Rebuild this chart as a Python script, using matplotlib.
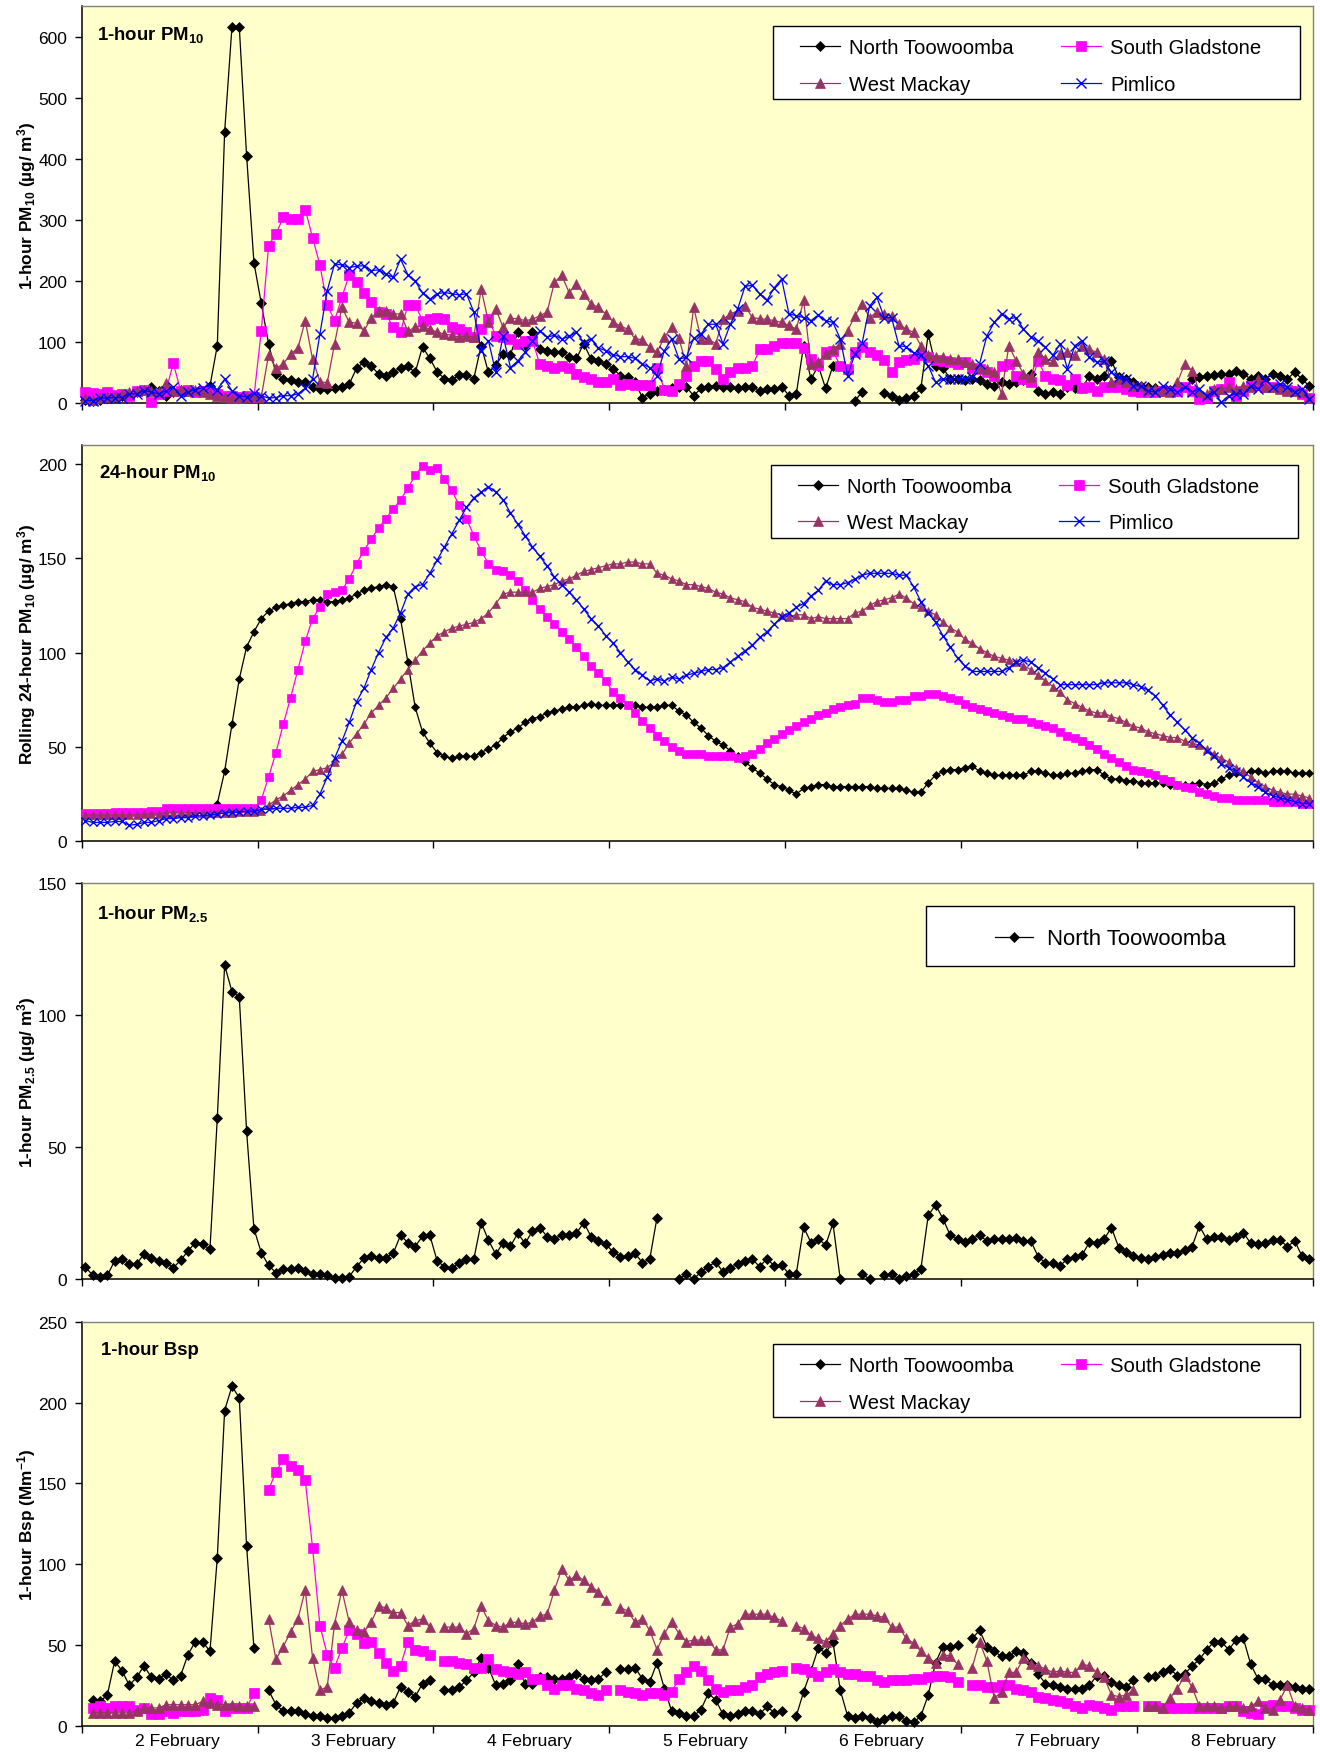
#!/usr/bin/env python

import numpy as np
import matplotlib
matplotlib.use('Agg')
import matplotlib.pyplot as plt
from matplotlib.lines import Line2D
from matplotlib.patches import Rectangle

nan = np.nan

# Hourly values from 2 February 00:00 to 8 February 23:00 (168 hours)
day_labels = ['2 February', '3 February', '4 February', '5 February',
              '6 February', '7 February', '8 February']

# 1-hour PM10 (ug/m3)
pm10_1h_toowoomba = [
    5, 3, 5, 8, 10, 12, 15, 18, 22, 27, 20, 12, 18, 22, 20, 18, 20, 28,
    94, 444, 616, 616, 405, 230, 164, 97, 48, 39, 38, 35, 34, 27, 23, 23, 24, 26, 31, 57, 67, 60,
    48, 44, 51, 57, 60, 50, 92, 73, 51, 40, 38, 46, 46, 40, 94, 50, 62,
    80, 79, 116, 95, 116, 88, 86, 83, 84, 75, 73, 97, 72, 68, 64, 56, 45, 42, 34, 9,
    15, 20, 22, 25, 27, 26, 12, 24, 27, 28, 26, 26, 24, 26, 27, 20, 23, 23, 27, 12, 15, 94, 39, 61, 24, 61,
    nan, nan, 4, 18, nan, nan, 16, 12, 5, 8, 11, 24,
    113, 61, 57, 40, 39, 38, 39, 37, 31, 28, 34, 31, 34, 37, 48, 20, 15, 18, 15, 26,
    24, 24, 45, 39, 45, 69, 42, 39, 34, 28, 26, 24, 20, 22, 20, 26, 39, 42, 44, 46,
    48, 48, 53, 48, 39, 45, 39, 48, 45, 39, 51, 39, 28]
pm10_1h_gladstone = [
    18, 17, 15, 18, 13, 14, 12, 20, 22, 1, 15, 20, 65, 20, 22, 18, 20, 18, 15, 12, 12, 10, 12, 10,
    118, 258, 277, 304, 302, 301, 317, 271, 226, 161, 135, 173, 210, 198, 181, 166, 149, 146, 124, 116,
    161, 161, 135, 138, 139, 137, 124, 121, 116, 108, 121, 138, 110,
    108, 105, 97, 102, 102, 64, 61, 58, 61, 58, 48, 42, 39, 35, 35, 39, 30, 31, 30, 30,
    30, 58, 22, 20, 31, 45, 60, 69, 69, 56, 40, 51, 57, 58, 60, 88, 88, 94, 98, 99,
    99, 90, 72, 62, 83, 85, 61, 55, 83, 91, 83, 79, 71, 50, 67, 70, 72,
    79, 75, 71, 69, 67, 64, 67, 58, 55, 50, 45, 61, 64, 45, 39, 34, 68, 45, 39, 37,
    30, 39, 24, 26, 19, 26, 26, 26, 23, 20, 18, 18, 18, 19, 18, 19, 26, 20, 7, 9,
    20, 23, 34, 12, 20, 28, 30, 26, 26, 24, 22, 19, 15, 9]
pm10_1h_mackay = [
    8, 5, 8, 10, 12, 15, 18, 20, 22, 20, 18, 33, 20, 22, 20, 22, 18, 15, 12, 10, 8, 8, 10, 12,
    10, 79, 57, 64, 80, 90, 135, 72, 35, 33, 97, 157, 132, 131, 118, 139, 151, 150, 146, 146,
    118, 124, 126, 121, 116, 113, 111, 108, 109, 108, 187, 133, 154,
    124, 139, 138, 135, 137, 143, 149, 198, 209, 181, 195, 179, 162, 157, 146, 133, 126, 121, 105, 104,
    91, 83, 108, 124, 106, 61, 157, 105, 105, 97, 137, 146, 151, 159, 140, 138, 137, 135, 132, 127,
    121, 168, 64, 67, 80, 88, 97, 118, 143, 162, 140, 149, 146, 143, 129, 121, 116,
    94, 79, 75, 75, 72, 72, 67, 64, 58, 56, 50, 15, 94, 69, 48, 42, 83, 72, 69, 80,
    83, 78, 94, 88, 83, 72, 34, 39, 34, 28, 28, 23, 23, 20, 19, 34, 64, 53, 18, 15,
    23, 23, 26, 23, 28, 26, 39, 26, 26, 23, 20, 20, 18, 9]
pm10_1h_pimlico = [
    4, 4, 8, 8, 9, 9, 15, 15, 20, 18, 15, 20, 26, 12, 18, 22, 25, 28, 22, 39,
    20, 12, 10, 16, 12, 8, 9, 12, 12, 15, 24, 39, 113, 184, 228, 226, 222, 224, 225, 217,
    218, 211, 206, 236, 210, 200, 180, 170, 179, 181, 179, 177, 179, 149, 86, 102, 50,
    110, 58, 69, 83, 102, 118, 108, 111, 105, 109, 116, 99, 105, 90, 86, 79, 76, 76, 73, 64,
    58, 45, 86, 105, 72, 75, 106, 113, 129, 129, 97, 129, 154, 191, 193, 179, 168, 189, 203, 146,
    143, 140, 135, 144, 135, 132, 105, 45, 80, 99, 159, 173, 140, 140, 94, 92, 82,
    78, 61, 34, 39, 39, 39, 40, 42, 64, 110, 132, 146, 138, 140, 121, 108, 102, 91, 78, 97,
    56, 94, 102, 75, 67, 69, 50, 42, 39, 28, 28, 20, 18, 28, 23, 18, 26, 18, 23, 12,
    18, 1, 12, 15, 15, 28, 23, 39, 26, 31, 26, 18, 23, 7]

# Rolling 24-hour PM10 (ug/m3)
pm10_24h_toowoomba = [
    14, 14, 14, 14, 14, 14.5, 15, 15, 15, 15.5, 15.5, 16, 16, 16, 16.5, 16.5, 17, 17,
    20, 37, 62, 86, 103, 111, 118, 122, 124, 125, 126, 127, 127, 128, 128, 127, 127, 128, 129, 131,
    133, 134, 135, 136, 135, 118, 95, 71, 58, 52, 47, 45, 44, 45, 45, 45, 47, 49, 51,
    55, 58, 60, 63, 65, 66, 68, 69, 70, 71, 71, 72, 73, 72, 72, 72, 72, 72, 72, 71,
    71, 71, 72, 72, 69, 67, 63, 60, 56, 53, 51, 48, 45, 42, 39, 36, 33, 30, 29, 27,
    25, 28, 29, 30, 30, 29, 29, 29, 29, 29, 29, 28, 28, 28, 28, 27, 26,
    26, 31, 35, 37, 38, 38, 39, 40, 37, 36, 35, 35, 35, 35, 35, 37, 37, 36, 35, 35,
    36, 36, 37, 38, 38, 35, 33, 33, 32, 32, 31, 31, 31, 31, 30, 30, 30, 30, 31, 30,
    31, 33, 35, 36, 36, 37, 37, 36, 37, 37, 37, 36, 36, 36]
pm10_24h_gladstone = [
    15, 15, 15, 15, 15.5, 15.5, 15.5, 15.5, 15.5, 16, 16, 17.5, 17.5, 17.5, 17.5, 17.5,
    17.5, 17.5, 17.5, 17.5, 17.5, 17.5, 17.5, 17.5,
    22, 34, 47, 62, 76, 91, 106, 118, 124, 131, 132, 133, 139, 147, 154, 160, 166, 171, 176, 181,
    187, 194, 199, 197, 198, 192, 186, 178, 171, 162, 154, 147, 144,
    143, 141, 138, 133, 128, 123, 119, 115, 111, 107, 103, 98, 93, 89, 85, 79, 76, 72, 68, 64,
    60, 56, 53, 50, 48, 46, 46, 46, 45, 45, 45, 45, 44, 45, 46, 49, 52, 54, 57, 59,
    61, 63, 65, 67, 68, 70, 71, 72, 73, 76, 76, 75, 74, 74, 75, 75, 77,
    77, 78, 78, 77, 76, 75, 73, 71, 70, 69, 68, 67, 66, 65, 65, 63, 62, 61, 60, 58,
    56, 55, 53, 51, 49, 46, 44, 42, 40, 38, 37, 36, 35, 33, 32, 30, 29, 28, 26, 25,
    24, 23, 23, 22, 22, 22, 22, 22, 21, 21, 21, 21, 20, 20]
pm10_24h_mackay = [
    14, 14, 14, 14, 14, 14, 14, 14, 14.5, 14.5, 14.5, 15, 15, 15, 15, 15, 15, 15, 15, 15,
    15, 15.5, 15.5, 15.5,
    16, 19, 22, 24, 27, 30, 33, 37, 38, 39, 42, 46, 52, 57, 62, 68, 72, 76, 81, 86,
    91, 96, 101, 105, 109, 111, 113, 114, 115, 116, 118, 121, 126,
    131, 132, 132, 132, 132, 134, 135, 136, 138, 139, 141, 143, 144, 145, 146, 147, 147, 148, 148, 147,
    147, 142, 141, 139, 138, 136, 136, 135, 134, 132, 131, 129, 128, 127, 124, 123, 122, 121, 120, 119,
    120, 120, 118, 119, 118, 118, 118, 118, 121, 122, 125, 127, 128, 129, 131, 129, 126,
    124, 122, 120, 116, 113, 111, 107, 105, 102, 100, 98, 97, 96, 95, 93, 91, 88, 85, 82, 79,
    75, 73, 71, 69, 68, 68, 66, 65, 63, 61, 60, 58, 57, 56, 55, 55, 53, 52, 51, 49,
    46, 44, 42, 39, 37, 34, 31, 29, 27, 26, 25, 25, 24, 23]
pm10_24h_pimlico = [
    11, 10, 10, 10, 10.5, 10.5, 8.5, 9, 10, 10, 11, 12, 12, 12.5, 12.5, 13.5, 13.5, 14, 14.5, 15,
    15.5, 15.5, 16, 16, 17, 17, 17.5, 17.5, 17.5, 18, 18,
    19, 25, 34, 44, 53, 63, 74, 81, 91, 100, 108, 113, 121, 131, 135, 136, 142, 149, 156, 163,
    170, 177, 182, 185, 188, 185,
    181, 174, 168, 162, 156, 151, 146, 140, 136, 132, 128, 123, 118, 114, 109, 105, 100, 95, 91, 88,
    85, 86, 85, 87, 86, 88, 89, 90, 91, 91, 92, 95, 98, 101, 104, 108, 111, 115, 119, 121,
    124, 126, 130, 133, 138, 136, 136, 137, 139, 141, 142, 142, 142, 142, 141, 141, 135,
    127, 121, 116, 109, 103, 97, 93, 90, 90, 90, 90, 90, 92, 95, 96, 95, 92, 89, 86, 83,
    83, 83, 83, 83, 83, 84, 84, 84, 84, 83, 82, 80, 77, 72, 67, 63, 59, 55, 52, 48,
    45, 41, 39, 37, 34, 31, 29, 26, 24, 23, 22, 21, 20, 20]

# 1-hour PM2.5 (ug/m3)
pm25_1h_toowoomba = [
    4.7, 1.5, 1, 1.5, 7, 7.6, 5.9, 5.9, 9.5, 8.2, 7, 6.3, 4.4, 7.2, 10.7, 13.9, 13.3, 11.4,
    61, 119, 109, 107, 56, 19.2, 10.1, 5.3, 2.5, 3.8, 3.8, 4.2, 3.2, 1.9, 2.1, 1.5, 0.4, 0.6, 1, 4.8,
    8, 8.8, 8, 8.2, 9.8, 16.7, 13.9, 12.4, 16.4, 16.7,
    6.9, 4.8, 4.2, 6.1, 7.8, 7.6, 21.5, 14.8, 9.5, 13.9, 12.6, 17.4, 13.6, 18.3, 19.6, 16.2,
    15.4, 16.7, 16.7, 17.4, 21.5, 16.2, 14.5, 13.3, 10.4, 8.6, 8.8, 9.8, 6.3, 7.6, 23.4,
    nan, nan,
    0, 2, 0, 2.9, 4.8, 6.6, 2.8, 4.4, 5.7, 6.9, 7.6, 4.8, 7.8, 5.1, 5.3, 2.1, 2.1, 19.8, 13.9, 15.4,
    12.9, 21.2, 0,
    nan, nan, 2.1, 0, nan,
    1.5, 2.1, 0, 1.3, 2.1, 4, 24.2, 28.2, 23, 16.7, 15.4, 14.1, 15.4, 16.7, 14.5, 15.2, 15.4, 15.2,
    15.8, 14.5, 14.5, 8.6, 6.1, 6.1, 5.1, 7.8, 8.6, 9.2, 14.1, 13.9, 15.2, 19.6, 12, 10.4, 8.8, 8.2,
    7.8, 8.6, 9.1, 9.8, 9.8, 11.1, 12.4, 20.2, 15.2, 16.2, 16.2, 14.9, 16.2, 17.7, 13.6, 13.3,
    13.9, 14.9, 14.9, 12.4, 14.5, 8.8, 7.6]

# 1-hour Bsp (Mm-1); gaps at midnight
bsp_1h_toowoomba = [
    nan, 16, 15, 19, 40, 34, 25, 30, 37, 30, 29, 32, 28, 31, 44, 52, 52, 46, 104, 195, 210, 203, 111, 48,
    nan, 22, 13, 9, 9, 9, 7, 6, 6, 5, 5, 6, 8, 14, 17, 15, 14, 13, 14, 24, 21, 18, 26, 28,
    nan, 22, 22, 24, 28, 33, 42, 36, 25, 26, 28, 38, 26, 26, 30, 30, 29, 29, 30, 32, 29, 28, 29, 33,
    nan, 35, 35, 36, 29, 27, 39, 23, 9, 8, 6, 6, 10, 20, 16, 7, 6, 7, 9, 9, 7, 12, 8, 9,
    nan, 6, 21, 34, 48, 45, 52, 22, 6, 5, 6, 5, 2, 4, 6, 6, 3, 2, 6, 19, 39, 49, 49, 50,
    nan, 54, 59, 49, 46, 43, 43, 46, 45, 39, 32, 26, 25, 24, 23, 23, 23, 25, 31, 31, 27, 25, 24, 28,
    nan, 30, 31, 33, 35, 31, 32, 37, 41, 47, 52, 52, 47, 53, 54, 38, 29, 29, 25, 25, 25, 24, 23, 23]
bsp_1h_gladstone = [
    nan, 11, 12, 11, 12, 12, 12, 10, 11, 7, 7, 9, 8, 9, 9, 9, 10, 17, 16, 9, 11, 11, 11, 20,
    nan, 146, 157, 165, 161, 158, 152, 110, 62, 44, 36, 48, 59, 57, 51, 52, 45, 39, 34, 37, 52, 47, 46, 44,
    nan, 40, 40, 39, 38, 36, 36, 41, 35, 34, 33, 32, 33, 29, 29, 25, 23, 25, 25, 23, 22, 20, 19, 22,
    nan, 22, 21, 20, 19, 20, 20, 19, 21, 29, 33, 37, 34, 28, 23, 21, 22, 22, 24, 25, 30, 32, 33, 34,
    nan, 36, 35, 33, 31, 33, 35, 33, 32, 32, 31, 31, 28, 27, 28, 28, 28, 29, 29, 30, 31, 31, 30, 27,
    nan, 25, 25, 24, 24, 25, 25, 23, 22, 21, 18, 17, 16, 15, 14, 12, 11, 13, 12, 11, 10, 12, 12, 12,
    nan, 12, 12, 11, 11, 11, 11, 11, 11, 11, 11, 11, 12, 12, 9, 8, 7, 12, 13, 12, 12, 11, 10, 10]
bsp_1h_mackay = [
    nan, 8, 8, 8, 8, 8, 8, 9, 11, 11, 11, 13, 13, 13, 13, 13, 15, 14, 13, 13, 13, 12, 12, 12,
    nan, 66, 41, 49, 58, 66, 84, 42, 22, 24, 63, 84, 64, 59, 58, 64, 74, 73, 70, 70, 62, 65, 66, 61,
    nan, 61, 61, 61, 57, 60, 74, 65, 62, 61, 64, 64, 63, 64, 68, 69, 84, 97, 90, 93, 90, 86, 83, 78,
    nan, 73, 71, 64, 66, 59, 47, 57, 64, 57, 52, 53, 53, 53, 47, 47, 61, 63, 69, 69, 69, 69, 67, 65,
    nan, 62, 60, 56, 54, 52, 57, 62, 66, 69, 69, 69, 68, 67, 61, 61, 54, 51, 46, 42, 39, 44, 43, 38,
    nan, 36, 52, 40, 17, 21, 33, 33, 42, 38, 37, 35, 33, 34, 33, 33, 38, 37, 33, 30, 19, 18, 19, 22,
    nan, 12, 12, 11, 17, 23, 31, 24, 12, 12, 12, 11, 12, 12, 11, 12, 15, 11, 10, 16, 25, 12, 11, 10]

plt.rcParams['font.family'] = ['Liberation Sans', 'DejaVu Sans']
plt.rcParams['mathtext.fontset'] = 'custom'
plt.rcParams['mathtext.rm'] = 'Liberation Sans'
plt.rcParams['mathtext.bf'] = 'Liberation Sans:bold'
plt.rcParams['mathtext.it'] = 'Liberation Sans:italic'

W, H = 1320, 1756
fig = plt.figure(figsize=(W / 100, H / 100), dpi=100)
fig.patch.set_facecolor('white')


def fx(px):
    return px / W


def fy(py):
    return 1 - py / H


colors = {'North Toowoomba': 'black', 'South Gladstone': '#FF00FF',
          'West Mackay': '#993366', 'Pimlico': '#0000FF'}
markers = {'North Toowoomba': 'D', 'South Gladstone': 's',
           'West Mackay': '^', 'Pimlico': 'x'}

ax_left, ax_right = 81.7, 1313
panels = [(7.3, 404), (446, 842.3), (884.3, 1280.3), (1322.7, 1726.7)]
axes = []
for top, bottom in panels:
    ax = fig.add_axes([fx(ax_left), fy(bottom), (ax_right - ax_left) / W, (bottom - top) / H])
    ax.set_facecolor('#FFFFCC')
    ax.set_xlim(0, 168)
    ax.set_xticks(np.arange(0, 169, 24))
    ax.tick_params(axis='x', which='major', length=5, width=1, direction='out', labelbottom=False)
    ax.tick_params(axis='y', length=5, width=1, direction='out', labelsize=12.5, pad=5.5)
    for s in ['top', 'right']:
        ax.spines[s].set_color('#808080')
        ax.spines[s].set_linewidth(1.0)
    for s in ['left', 'bottom']:
        ax.spines[s].set_color('black')
        ax.spines[s].set_linewidth(1.1)
    axes.append(ax)


def draw(ax, name, values, ms, z):
    x = np.arange(len(values)) + 0.5
    c = colors[name]
    m = markers[name]
    mew = 1.0 if m == 'x' else 0.5
    ax.plot(x, np.array(values, dtype=float), color=c, lw=0.9, marker=m, ms=ms,
            mfc=c, mec=c, mew=mew, zorder=z, clip_on=False)


def legend_box(names, box, ncol, fontsize, sizes, hl, htp, cs, dx=0, dy=0):
    x0, y0, x1, y1 = box
    fig.add_artist(Rectangle((fx(x0), fy(y1)), (x1 - x0) / W, (y1 - y0) / H,
                             transform=fig.transFigure, facecolor='white',
                             edgecolor='black', lw=1.0, zorder=5))
    handles = []
    for n in names:
        m = markers[n]
        handles.append(Line2D([], [], color=colors[n], lw=0.9, marker=m, ms=sizes[m],
                              mfc=colors[n], mec=colors[n], mew=1.0 if m == 'x' else 0.5))
    leg = fig.legend(handles, names, loc='center',
                     bbox_to_anchor=(fx((x0 + x1) / 2 + dx), fy((y0 + y1) / 2 + dy)),
                     bbox_transform=fig.transFigure, ncol=ncol, frameon=False,
                     fontsize=fontsize, handlelength=hl, handletextpad=htp,
                     columnspacing=cs, labelspacing=0.87, numpoints=1, borderpad=0)
    leg.set_zorder(6)


def title(ax, text, xf, yf):
    ax.text(xf, yf, text, transform=ax.transAxes, fontsize=13.4, fontweight='bold',
            va='baseline', ha='left', zorder=10)


def ylabel(text, top, bottom):
    fig.text(fx(27), fy((top + bottom) / 2), text, rotation=90, ha='center', va='center',
             fontsize=12.4, fontweight='bold')


big = {'D': 4.6, 's': 7.5, '^': 7.2, 'x': 7.2}

# Panel 1: 1-hour PM10
ax = axes[0]
ax.set_ylim(0, 650)
ax.set_yticks(np.arange(0, 601, 100))
draw(ax, 'North Toowoomba', pm10_1h_toowoomba, 4.6, 3)
draw(ax, 'South Gladstone', pm10_1h_gladstone, 7.5, 4)
draw(ax, 'West Mackay', pm10_1h_mackay, 7.2, 5)
draw(ax, 'Pimlico', pm10_1h_pimlico, 7.2, 6)
title(ax, r'1-hour PM$_{\mathbf{10}}$', 0.0124, 0.9176)
ylabel(r'1-hour PM$_{\mathbf{10}}$ (µg/ m$^{\mathbf{3}}$)', *panels[0])
legend_box(['North Toowoomba', 'West Mackay', 'South Gladstone', 'Pimlico'],
           (773, 27, 1300, 100), 2, 14.6, big, 1.97, 0.46, 2.33, dx=-6, dy=3.5)

# Panel 2: rolling 24-hour PM10
ax = axes[1]
ax.set_ylim(0, 210)
ax.set_yticks(np.arange(0, 201, 50))
draw(ax, 'North Toowoomba', pm10_24h_toowoomba, 3.6, 3)
draw(ax, 'South Gladstone', pm10_24h_gladstone, 6.3, 4)
draw(ax, 'West Mackay', pm10_24h_mackay, 6.0, 5)
draw(ax, 'Pimlico', pm10_24h_pimlico, 6.0, 6)
title(ax, r'24-hour PM$_{\mathbf{10}}$', 0.014, 0.9185)
ylabel(r'Rolling 24-hour PM$_{\mathbf{10}}$ (µg/ m$^{\mathbf{3}}$)', *panels[1])
legend_box(['North Toowoomba', 'West Mackay', 'South Gladstone', 'Pimlico'],
           (771, 466, 1298, 539), 2, 14.6, big, 1.97, 0.46, 2.33, dx=-6, dy=3)

# Panel 3: 1-hour PM2.5
ax = axes[2]
ax.set_ylim(0, 150)
ax.set_yticks(np.arange(0, 151, 50))
draw(ax, 'North Toowoomba', pm25_1h_toowoomba, 5.2, 3)
title(ax, r'1-hour PM$_{\mathbf{2.5}}$', 0.0127, 0.9116)
ylabel(r'1-hour PM$_{\mathbf{2.5}}$ (µg/ m$^{\mathbf{3}}$)', *panels[2])
legend_box(['North Toowoomba'], (926, 907, 1294, 967), 1, 15.9,
           {'D': 5.0}, 1.75, 0.6, 2.0, dx=0, dy=3)

# Panel 4: 1-hour Bsp
ax = axes[3]
ax.set_ylim(0, 250)
ax.set_yticks(np.arange(0, 251, 50))
draw(ax, 'North Toowoomba', bsp_1h_toowoomba, 4.6, 3)
draw(ax, 'South Gladstone', bsp_1h_gladstone, 7.2, 4)
draw(ax, 'West Mackay', bsp_1h_mackay, 7.2, 5)
title(ax, '1-hour Bsp', 0.0154, 0.92)
ylabel(r'1-hour Bsp (Mm$^{\mathbf{-1}}$)', *panels[3])
legend_box(['North Toowoomba', 'West Mackay', 'South Gladstone'],
           (773, 1345, 1300, 1418), 2, 14.6, big, 1.97, 0.46, 2.33, dx=-6, dy=3.5)
ax.set_xticks(np.arange(7) * 24 + 13.1, minor=True)
ax.set_xticklabels(day_labels, minor=True)
ax.tick_params(axis='x', which='minor', length=0, labelsize=12.6, pad=5.5)

fig.savefig('out.png', dpi=100, facecolor='white')
